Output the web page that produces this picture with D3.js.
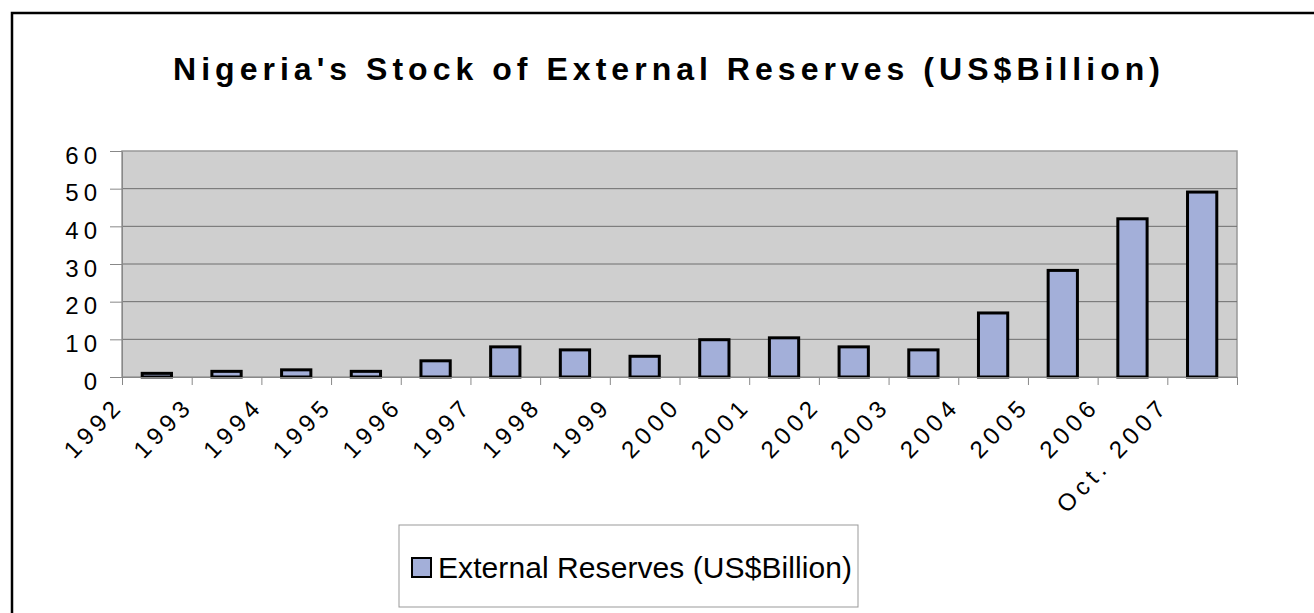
<!DOCTYPE html>
<meta charset="utf-8">
<head>
  <title>Nigeria external reserves</title>
</head>
<style>
  body { margin: 0; background: #fff; font-family: Arial, "Liberation Sans", sans-serif; }
  .axis path { stroke: #888; }
  .axis line { stroke: #888; }
  .grid line { stroke: #6e6e6e; stroke-width: 1px; }
  .bar { fill: #a3afd9; stroke: #000; stroke-width: 3px; }
</style>
<body>
<svg width="1314" height="613"></svg>
<script src="https://d3js.org/d3.v7.min.js"></script>
<script>
  // data
  var years = ["1992", "1993", "1994", "1995", "1996", "1997", "1998", "1999",
               "2000", "2001", "2002", "2003", "2004", "2005", "2006", "Oct. 2007"];
  var reserves = [0.97, 1.5, 1.9, 1.5, 4.3, 8.0, 7.2, 5.5,
                  9.9, 10.4, 8.0, 7.2, 17.0, 28.3, 42.0, 49.1];
  var yTicks = [0, 10, 20, 30, 40, 50, 60];
  var title = "Nigeria's Stock of External Reserves (US$Billion)";
  var seriesName = "External Reserves (US$Billion)";

  var svg = d3.select("svg");

  // outer chart frame (right/bottom edges run off the picture)
  svg.append("rect")
    .attr("x", 12).attr("y", 13)
    .attr("width", 1320).attr("height", 640)
    .attr("fill", "none").attr("stroke", "#000").attr("stroke-width", 2.5);

  var margin = {top: 151, left: 122, right: 1237, bottom: 377};
  var width = margin.right - margin.left,
      height = margin.bottom - margin.top;

  var g = svg.append("g")
    .attr("transform", "translate(" + margin.left + "," + margin.top + ")");

  var x = d3.scaleBand().domain(years).range([0, width])
    .paddingInner(0.58).paddingOuter(0.29);
  // category boundaries for the tick marks
  var xb = d3.scaleLinear().domain([0, years.length]).range([0, width]);
  var y = d3.scaleLinear().domain([0, 60]).range([height, 0]);

  // plot background
  g.append("rect")
    .attr("width", width).attr("height", height)
    .attr("fill", "#cfcfcf").attr("stroke", "#999").attr("stroke-width", 1.5);

  // gridlines
  g.append("g").attr("class", "grid")
    .selectAll("line").data(yTicks.slice(1, -1)).enter().append("line")
    .attr("x1", 0).attr("x2", width)
    .attr("y1", function(d) { return y(d); })
    .attr("y2", function(d) { return y(d); });

  // bars
  g.selectAll(".bar").data(reserves).enter().append("rect")
    .attr("class", "bar")
    .attr("x", function(d, i) { return x(years[i]); })
    .attr("width", x.bandwidth())
    .attr("y", function(d) { return y(d); })
    .attr("height", function(d) { return height - y(d); });

  // y axis
  var yAxis = g.append("g").attr("class", "axis")
    .call(d3.axisLeft(y).tickValues(yTicks).tickSize(12).tickPadding(8).tickSizeOuter(0));
  yAxis.selectAll("text")
    .style("font-size", "24px").style("letter-spacing", "5px")
    .attr("fill", "#000").attr("dy", "0.5em");

  // x axis: tick marks on the category boundaries
  var xAxis = g.append("g").attr("class", "axis")
    .attr("transform", "translate(0," + height + ")")
    .call(d3.axisBottom(xb).tickValues(d3.range(years.length + 1))
      .tickSize(8).tickSizeOuter(0).tickFormat(""));

  // rotated year labels, ending at each left boundary
  g.append("g").selectAll("text").data(years).enter().append("text")
    .attr("transform", function(d, i) {
      return "translate(" + (xb(i) + 3) + "," + (height + 30) + ") rotate(-46)";
    })
    .attr("text-anchor", "end")
    .style("font-size", "24px").style("letter-spacing", "5px")
    .text(function(d) { return d; });

  // title
  svg.append("text")
    .attr("x", 173).attr("y", 80)
    .attr("textLength", 987).attr("lengthAdjust", "spacing")
    .style("font-size", "32px").style("font-weight", "bold")
    .text(title);

  // legend
  var legend = svg.append("g");
  legend.append("rect")
    .attr("x", 399).attr("y", 525).attr("width", 459).attr("height", 82)
    .attr("fill", "#fff").attr("stroke", "#999").attr("stroke-width", 1);
  legend.append("rect")
    .attr("x", 412).attr("y", 558).attr("width", 19).attr("height", 19)
    .attr("fill", "#a3afd9").attr("stroke", "#000").attr("stroke-width", 2);
  legend.append("text")
    .attr("x", 438).attr("y", 578)
    .attr("textLength", 414).attr("lengthAdjust", "spacing")
    .style("font-size", "30px")
    .text(seriesName);
</script>
</body>
</html>
